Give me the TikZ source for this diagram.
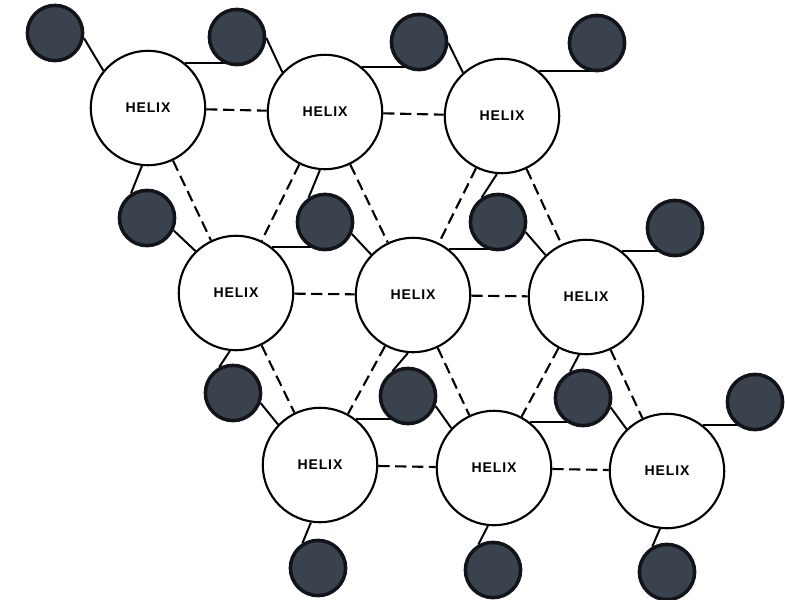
\documentclass[tikz,border=0pt]{standalone}
\usepackage{fontspec}
\newfontfamily\helixfont[LetterSpace=6]{Liberation Sans}
\usepackage{tikz}
\usetikzlibrary{backgrounds}
\definecolor{ballfill}{RGB}{58, 66, 78}
\definecolor{ballrim}{RGB}{18, 20, 26}

\begin{document}
\begin{tikzpicture}[x=0.025cm, y=-0.025cm, line width=1.5pt,
    helix/.style={draw, circle, fill=white, minimum size=2.86cm, inner sep=0pt, font=\helixfont\bfseries\fontsize{10}{12}\selectfont},
    ball/.style={draw=ballrim, circle, fill=ballfill, line width=2.5pt, minimum size=1.38cm, inner sep=0pt},
    bond/.style={draw, line width=1.4pt},
    link/.style={line width=1.5pt, dash pattern=on 8pt off 4pt}]
    \useasboundingbox (0,0) rectangle (785,600);

    \node[helix] (h11) at (148,108) {HELIX};
    \node[helix] (h12) at (325,112) {HELIX};
    \node[helix] (h13) at (502,116) {HELIX};
    \node[helix] (h21) at (236,293) {HELIX};
    \node[helix] (h22) at (413,295) {HELIX};
    \node[helix] (h23) at (586,297) {HELIX};
    \node[helix] (h31) at (320,465) {HELIX};
    \node[helix] (h32) at (494,468) {HELIX};
    \node[helix] (h33) at (667,471) {HELIX};

    \node[ball] (b1) at (55,33) {};
    \node[ball] (b2) at (237,37) {};
    \node[ball] (b3) at (419,42) {};
    \node[ball] (b4) at (597,43) {};
    \node[ball] (b5) at (147,218) {};
    \node[ball] (b6) at (325,222) {};
    \node[ball] (b7) at (498,222) {};
    \node[ball] (b8) at (675,228) {};
    \node[ball] (b9) at (233,393) {};
    \node[ball] (b10) at (408,396) {};
    \node[ball] (b11) at (583,398) {};
    \node[ball] (b12) at (755,402) {};
    \node[ball] (b13) at (318,568) {};
    \node[ball] (b14) at (493,570) {};
    \node[ball] (b15) at (667,572) {};

    \begin{pgfonlayer}{background}
        \draw[bond] (b1.-10) -- (h11.140);
        \draw[bond] (h11.51) -- (h11.51 -| b2);
        \draw[bond] (b2.-2) -- (h12.137);
        \draw[bond] (h12.51) -- (h12.51 -| b3);
        \draw[bond] (b3.-2) -- (h13.132);
        \draw[bond] (h13.51) -- (h13.51 -| b4);
        \draw[bond] (h11.264) -- (b5.123);
        \draw[bond] (b5.-25) -- (h21.134);
        \draw[bond] (h12.265) -- (b6.124);
        \draw[bond] (h21.52) -- (h21.52 -| b6);
        \draw[bond] (b6.-24) -- (h22.136);
        \draw[bond] (h13.265) -- (b7.124);
        \draw[bond] (h22.52) -- (h22.52 -| b7);
        \draw[bond] (b7.-20) -- (h23.134);
        \draw[bond] (h23.52) -- (h23.52 -| b8);
        \draw[bond] (h21.264) -- (b9.118);
        \draw[bond] (b9.-20) -- (h31.136);
        \draw[bond] (h22.265) -- (b10.122);
        \draw[bond] (h31.52) -- (h31.52 -| b10);
        \draw[bond] (b10.-20) -- (h32.137);
        \draw[bond] (h23.263) -- (b11.116);
        \draw[bond] (h32.52) -- (h32.52 -| b11);
        \draw[bond] (b11.-19) -- (h33.134);
        \draw[bond] (h33.52) -- (h33.52 -| b12);
        \draw[bond] (h31.261) -- (b13.122);
        \draw[bond] (h32.264) -- (b14.120);
        \draw[bond] (h33.263) -- (b15.120);
    \end{pgfonlayer}

    \path[link] (h11) edge (h12) (h12) edge (h13)
                (h21) edge (h22) (h22) edge (h23)
                (h31) edge (h32) (h32) edge (h33);
    \path[link] (h11) edge (h21) (h12) edge (h21) (h12) edge (h22)
                (h13) edge (h22) (h13) edge (h23)
                (h21) edge (h31) (h22) edge (h31) (h22) edge (h32)
                (h23) edge (h32) (h23) edge (h33);
\end{tikzpicture}
\end{document}
